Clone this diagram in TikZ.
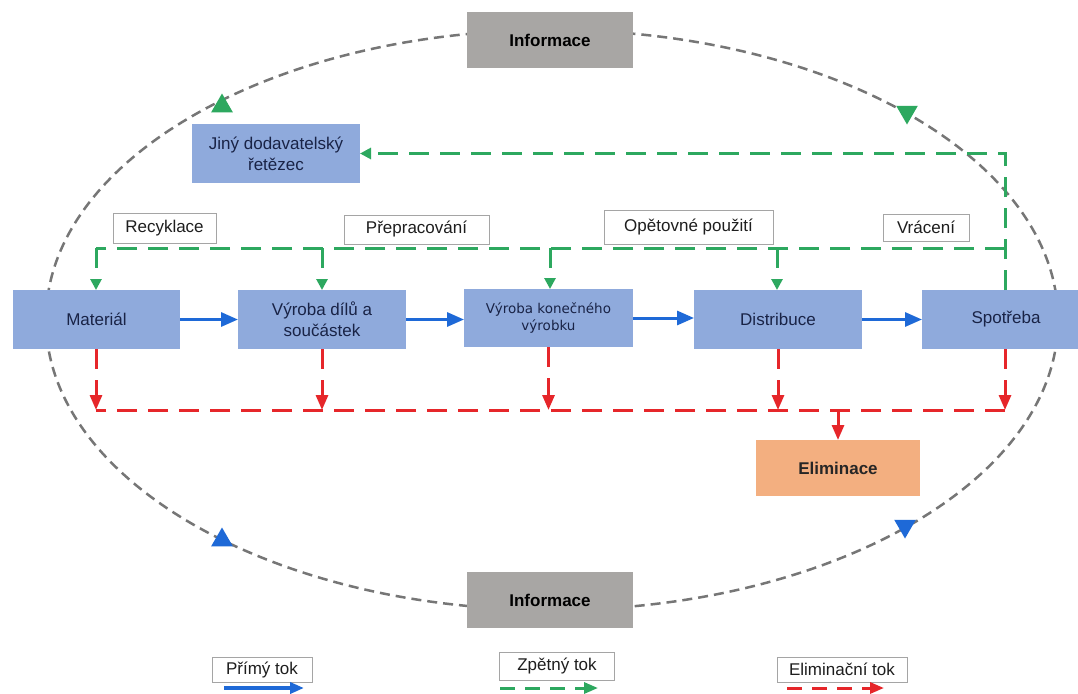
\documentclass[tikz,border=0pt]{standalone}
\usepackage{fontspec}
\setmainfont{Liberation Sans}
\newfontfamily\dejavu{DejaVu Sans}
\usetikzlibrary{arrows.meta,shapes.geometric}
\definecolor{boxblue}{RGB}{143,170,220}
\definecolor{boxtext}{RGB}{25,35,70}
\definecolor{infogray}{RGB}{168,166,164}
\definecolor{elimorange}{RGB}{243,175,128}
\definecolor{flowblue}{RGB}{30,105,215}
\definecolor{flowgreen}{RGB}{45,168,95}
\definecolor{flowred}{RGB}{230,38,42}
\definecolor{ellgray}{RGB}{118,118,118}
\definecolor{labelborder}{RGB}{165,165,165}
\definecolor{labeltext}{RGB}{30,30,30}
\begin{document}
\begin{tikzpicture}[x=1pt,y=-1pt,
  every node/.style={font=\fontsize{17}{21}\selectfont, inner sep=0pt, outer sep=0pt},
  procbox/.style={fill=boxblue, text=boxtext, minimum width=168pt, minimum height=59pt, align=center},
  infobox/.style={fill=infogray, text=black, font=\fontsize{17}{21}\selectfont\bfseries, minimum width=166pt, minimum height=56pt},
  elimbox/.style={fill=elimorange, text=black!85, font=\fontsize{17}{21}\selectfont\bfseries, minimum width=164pt, minimum height=56pt},
  tagbox/.style={fill=white, draw=labelborder, line width=0.9pt, text=labeltext},
  fwd/.style={flowblue, line width=3pt, -{Triangle[length=17pt,width=14pt]}},
  rev/.style={flowgreen, line width=3pt, dash pattern=on 20pt off 11pt},
  revarrow/.style={rev, -{Triangle[length=11pt,width=11pt]}},
  elim/.style={flowred, line width=3pt, dash pattern=on 20pt off 11pt},
  elimarrow/.style={elim, -{Triangle[length=15pt,width=12pt]}},
  legdash/.style={dash pattern=on 15pt off 10pt},
  ellline/.style={ellgray, line width=2.5pt, dash pattern=on 10pt off 6pt},
  marker/.style={regular polygon, regular polygon sides=3, minimum size=25pt, inner sep=0pt}
]
\useasboundingbox (0,0) rectangle (1078,693);
\fill[white] (0,0) rectangle (1078,693);

% information ellipse
\draw[ellline] (552,320) ellipse [x radius=506, y radius=290];
\node[marker, fill=flowgreen] (tgl) at (222,106) {};
\node[marker, fill=flowgreen, shape border rotate=180] (tgr) at (907,112) {};
\node[marker, fill=flowblue] (tbl) at (222,540) {};
\node[marker, fill=flowblue, shape border rotate=180] (tbr) at (905,526) {};

% information boxes
\node[infobox] (info1) at (550,40) {Informace};
\node[infobox] (info2) at (550,600) {Informace};

% process boxes
\node[procbox] (jiny) at (276,153.5) {Jiný dodavatelský\\řetězec};
\node[procbox, minimum width=167pt] (mat) at (96.5,319.5) {Materiál};
\node[procbox] (dil) at (322,319.5) {Výroba dílů a\\součástek};
\node[procbox, minimum width=169pt, minimum height=58pt, font=\dejavu\fontsize{13.5}{17}\selectfont] (kon) at (548.5,318) {Výroba konečného\\výrobku};
\node[procbox] (dis) at (778,319.5) {Distribuce};
\node[procbox] (spo) at (1006,319.5) {Spotřeba};
\node[elimbox] (elim) at (838,468) {Eliminace};

% label tags
\node[tagbox, minimum width=103pt, minimum height=30pt] (rec) at (164.5,228) {Recyklace};
\node[tagbox, minimum width=145pt, minimum height=29pt] (pre) at (416.5,229.5) {Přepracování};
\node[tagbox, minimum width=169pt, minimum height=34pt] (opo) at (688.5,227) {Opětovné použití};
\node[tagbox, minimum width=86pt, minimum height=27pt] (vra) at (926,227.5) {Vrácení};

% forward flow
\draw[fwd] (mat.east) -- (dil.west);
\draw[fwd] (dil.east) -- (dil.east -| kon.west);
\draw[fwd] (kon.east) -- (kon.east -| dis.west);
\draw[fwd] (dis.east) -- (spo.west);

% reverse flow
\coordinate (gS) at (1005,290);
\coordinate (gR) at (1005,248);
\coordinate (g1) at (96,248);
\coordinate (g2) at (322,248);
\coordinate (g3) at (550,248);
\coordinate (g4) at (777,248);
\draw[revarrow] (gS) |- (jiny.east);
\draw[rev] (gR) -- (g1);
\draw[revarrow] (g1) -- (g1 |- mat.north);
\draw[revarrow] (g2) -- (g2 |- dil.north);
\draw[revarrow] (g3) -- (g3 |- kon.north);
\draw[revarrow] (g4) -- (g4 |- dis.north);

% elimination flow
\coordinate (r1) at (96,410);
\coordinate (r2) at (322,410);
\coordinate (r3) at (548.5,410);
\coordinate (r4) at (778,410);
\coordinate (r5) at (1005,410);
\coordinate (rE) at (838,410);
\draw[elimarrow] (r1 |- mat.south) -- (r1);
\draw[elimarrow] (r2 |- dil.south) -- (r2);
\draw[elimarrow] (r3 |- kon.south) -- (r3);
\draw[elimarrow] (r4 |- dis.south) -- (r4);
\draw[elimarrow] (r5 |- spo.south) -- (r5);
\draw[elim] (r5) -- (r1);
\draw[flowred, line width=3pt, -{Triangle[length=15pt,width=12pt]}] (rE) -- (elim.north);

% legend
\node[tagbox, minimum width=100pt, minimum height=25pt] (lp) at (262,669.5) {Přímý tok};
\node[tagbox, minimum width=115pt, minimum height=28pt] (lz) at (557,666) {Zpětný tok};
\node[tagbox, minimum width=130pt, minimum height=25pt] (le) at (842,669.5) {Eliminační tok};
\coordinate (lpa) at (224,688);
\coordinate (lpb) at (304,688);
\coordinate (lza) at (500,688);
\coordinate (lzb) at (598,688);
\coordinate (lea) at (787,688);
\coordinate (leb) at (884,688);
\draw[fwd, line width=3.5pt, -{Triangle[length=14pt,width=11pt]}] (lpa) -- (lpb);
\draw[revarrow, legdash, -{Triangle[length=14pt,width=11pt]}] (lza) -- (lzb);
\draw[elimarrow, legdash, -{Triangle[length=14pt,width=11pt]}] (lea) -- (leb);
\end{tikzpicture}
\end{document}
